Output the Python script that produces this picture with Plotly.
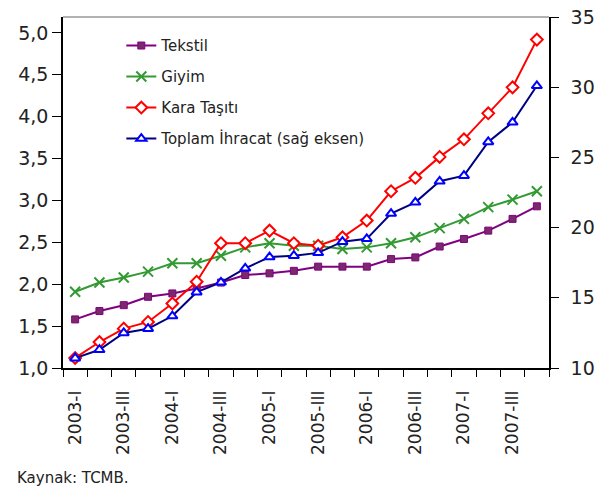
import plotly.graph_objects as go

quarters = ["2003-I", "2003-II", "2003-III", "2003-IV",
            "2004-I", "2004-II", "2004-III", "2004-IV",
            "2005-I", "2005-II", "2005-III", "2005-IV",
            "2006-I", "2006-II", "2006-III", "2006-IV",
            "2007-I", "2007-II", "2007-III", "2007-IV"]
tekstil = [1.58, 1.68, 1.75, 1.85, 1.89, 1.95, 2.02, 2.11, 2.13, 2.16,
           2.21, 2.21, 2.21, 2.30, 2.32, 2.45, 2.54, 2.64, 2.78, 2.93]
giyim = [1.91, 2.02, 2.08, 2.15, 2.25, 2.25, 2.34, 2.44, 2.49, 2.46,
         2.46, 2.42, 2.44, 2.49, 2.56, 2.67, 2.78, 2.92, 3.01, 3.11]
kara_tasiti = [1.12, 1.31, 1.47, 1.55, 1.77, 2.03, 2.49, 2.49, 2.64, 2.49,
               2.46, 2.56, 2.76, 3.11, 3.27, 3.52, 3.73, 4.04, 4.35, 4.92]
toplam_ihracat = [10.7, 11.3, 12.5, 12.8, 13.7, 15.4, 16.1, 17.1, 17.9, 18.0,
                  18.2, 19.0, 19.2, 21.0, 21.8, 23.3, 23.7, 26.1, 27.5, 30.1]
left_ticks = [1.0, 1.5, 2.0, 2.5, 3.0, 3.5, 4.0, 4.5, 5.0]
right_ticks = [10, 15, 20, 25, 30, 35]

xpos = list(range(len(quarters)))
label_pos = xpos[::2]
label_text = quarters[::2]
boundaries = [i - 0.5 for i in range(len(quarters) + 1)]

FONT = "DejaVu Sans"
TXT = "#222222"

fig = go.Figure()
fig.add_trace(go.Scatter(
    x=xpos, y=tekstil, name="Tekstil", mode="lines+markers", legendgroup="a",
    line=dict(color="#800080", width=2),
    marker=dict(symbol="square", size=7, color="#7a2a6c",
                line=dict(color="#800080", width=1))))
fig.add_trace(go.Scatter(
    x=xpos, y=giyim, name="Giyim", mode="lines+markers", legendgroup="b",
    line=dict(color="#339933", width=2),
    marker=dict(symbol="x-thin", size=10,
                line=dict(color="#339933", width=2))))
fig.add_trace(go.Scatter(
    x=xpos, y=kara_tasiti, name="Kara Taşıtı", mode="lines+markers", legendgroup="c",
    line=dict(color="#FF0000", width=2),
    marker=dict(symbol="diamond", size=9, color="white",
                line=dict(color="#FF0000", width=2))))
fig.add_trace(go.Scatter(
    x=xpos, y=toplam_ihracat, name="Toplam İhracat (sağ eksen)", mode="lines+markers",
    legendgroup="d", yaxis="y2",
    line=dict(color="#000080", width=2),
    marker=dict(symbol="triangle-up", size=9, color="white",
                line=dict(color="#0000FF", width=2))))

fig.update_layout(
    width=594, height=492,
    margin=dict(l=63, r=45, t=17, b=124),
    paper_bgcolor="white", plot_bgcolor="white",
    separators=",.",
    font=dict(family=FONT, color=TXT),
    showlegend=True,
    legend=dict(x=0.12, y=0.965, xanchor="left", yanchor="top",
                bgcolor="rgba(0,0,0,0)", font=dict(size=15, family=FONT, color=TXT),
                tracegroupgap=8.5),
    xaxis=dict(range=[-0.5, len(quarters) - 0.5], tickmode="array",
               tickvals=label_pos, ticktext=label_text, tickangle=-90,
               ticks="", ticklabelstandoff=14, automargin=False,
               tickfont=dict(size=17, family=FONT, color=TXT),
               showgrid=False, zeroline=False,
               showline=True, linecolor="black", linewidth=1.5,
               minor=dict(tickmode="array", tickvals=boundaries, ticks="outside",
                          ticklen=7, tickcolor="black", tickwidth=1, showgrid=False)),
    yaxis=dict(range=[1.0, 5.19], tickmode="array", tickvals=left_ticks,
               tickformat=".1f", ticks="outside", ticklen=9, tickcolor="black",
               automargin=False,
               tickfont=dict(size=19, family=FONT, color=TXT),
               showgrid=False, zeroline=False,
               showline=True, linecolor="black", linewidth=1.5),
    yaxis2=dict(range=[10, 35], overlaying="y", side="right", anchor="x",
                tickmode="array", tickvals=right_ticks,
                ticks="outside", ticklen=8, tickcolor="black",
                ticklabelstandoff=8, automargin=False,
                tickfont=dict(size=19, family=FONT, color=TXT),
                showgrid=False, zeroline=False,
                showline=True, linecolor="black", linewidth=1.5),
    yaxis3=dict(range=[10, 35], overlaying="y", side="right", anchor="x",
                tickmode="array", tickvals=right_ticks,
                ticks="inside", ticklen=8, tickcolor="black", automargin=False,
                showticklabels=False, showgrid=False, zeroline=False,
                showline=False),
)

fig.add_shape(type="line", xref="paper", yref="paper", x0=0, x1=1, y0=1, y1=1,
              line=dict(color="#999999", width=1.5))

fig.add_annotation(text="Kaynak: TCMB.", xref="paper", yref="paper",
                   x=-0.098, y=-0.313, xanchor="left", yanchor="middle",
                   showarrow=False, font=dict(size=15, family=FONT, color=TXT))

fig.write_html("out.html", config={"displayModeBar": False},
               post_script="document.body.style.margin='0';document.body.style.overflow='hidden';")
